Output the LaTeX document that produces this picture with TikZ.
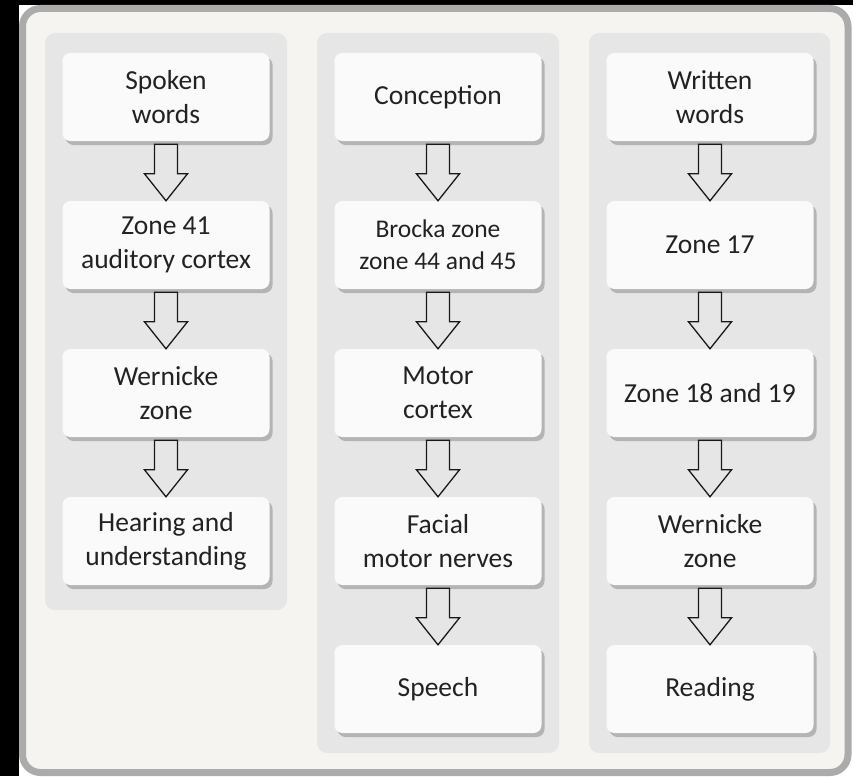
\documentclass[tikz,border=0pt]{standalone}
\usepackage{fontspec}
\setmainfont{Carlito}
\usetikzlibrary{calc,shadows}
\definecolor{framegray}{HTML}{ABABAB}
\definecolor{framefill}{HTML}{F5F4F1}
\definecolor{lanegray}{HTML}{E6E6E6}
\definecolor{cellwhite}{HTML}{FAFAFA}
\definecolor{shadowgray}{HTML}{B4B4B4}
\definecolor{inkgray}{HTML}{222222}
\tikzset{
  cell/.style={rounded corners=8pt, fill=cellwhite, minimum width=207pt,
    minimum height=88pt, align=center, text=inkgray,
    font=\fontsize{27.5}{34}\selectfont,
    general shadow={fill=shadowgray, shadow xshift=3pt, shadow yshift=-4pt}},
  smallcell/.style={cell, font=\fontsize{25.5}{32}\selectfont},
  lane/.style={fill=lanegray, rounded corners=10pt},
  flow/.style={draw=black!90, line width=1.3pt, line join=miter}
}
% hollow block arrow from the bottom of #1 to the top of #2
\newcommand{\flowarrow}[2]{%
  \draw[flow] ($(#1.south)+(-11.5,3)$) -- ($(#1.south)+(11.5,3)$)
    -- ($(#2.north)+(11.5,-27)$) -- ($(#2.north)+(21.5,-27)$) -- (#2.north)
    -- ($(#2.north)+(-21.5,-27)$) -- ($(#2.north)+(-11.5,-27)$) -- cycle;}
\begin{document}
\begin{tikzpicture}[x=1pt,y=-1pt]
   \fill[black] (0,0) rectangle (853,776);
   \fill[white] (19,5) rectangle (853,776);
   \draw[framegray, line width=7pt, fill=framefill, rounded corners=18pt]
     (22.5,8.5) rectangle (848,772.5);
   % lanes
   \fill[lane] (45,33) rectangle (287,610);
   \fill[lane] (317,33) rectangle (559,753);
   \fill[lane] (589,33) rectangle (830,753);
   % hearing
   \node[cell] (spoken) at (166,97) {Spoken\\words};
   \node[cell] (zone41) at (166,245) {Zone 41\\auditory cortex};
   \node[cell] (wernickeA) at (166,393) {Wernicke\\zone};
   \node[cell] (hearing) at (166,541) {Hearing and\\understanding};
   % speaking
   \node[cell] (conception) at (438,97) {Conception};
   \node[smallcell] (brocka) at (438,245) {Brocka zone\\zone 44 and 45};
   \node[cell] (motor) at (438,393) {Motor\\cortex};
   \node[cell] (facial) at (438,541) {Facial\\motor nerves};
   \node[cell] (speech) at (438,689) {Speech};
   % reading
   \node[cell] (written) at (710,97) {Written\\words};
   \node[cell] (zone17) at (710,245) {Zone 17};
   \node[cell] (zone18) at (710,393) {Zone 18 and 19};
   \node[cell] (wernickeB) at (710,541) {Wernicke\\zone};
   \node[cell] (reading) at (710,689) {Reading};
   % arrows
   \flowarrow{spoken}{zone41}
   \flowarrow{zone41}{wernickeA}
   \flowarrow{wernickeA}{hearing}
   \flowarrow{conception}{brocka}
   \flowarrow{brocka}{motor}
   \flowarrow{motor}{facial}
   \flowarrow{facial}{speech}
   \flowarrow{written}{zone17}
   \flowarrow{zone17}{zone18}
   \flowarrow{zone18}{wernickeB}
   \flowarrow{wernickeB}{reading}
\end{tikzpicture}
\end{document}
